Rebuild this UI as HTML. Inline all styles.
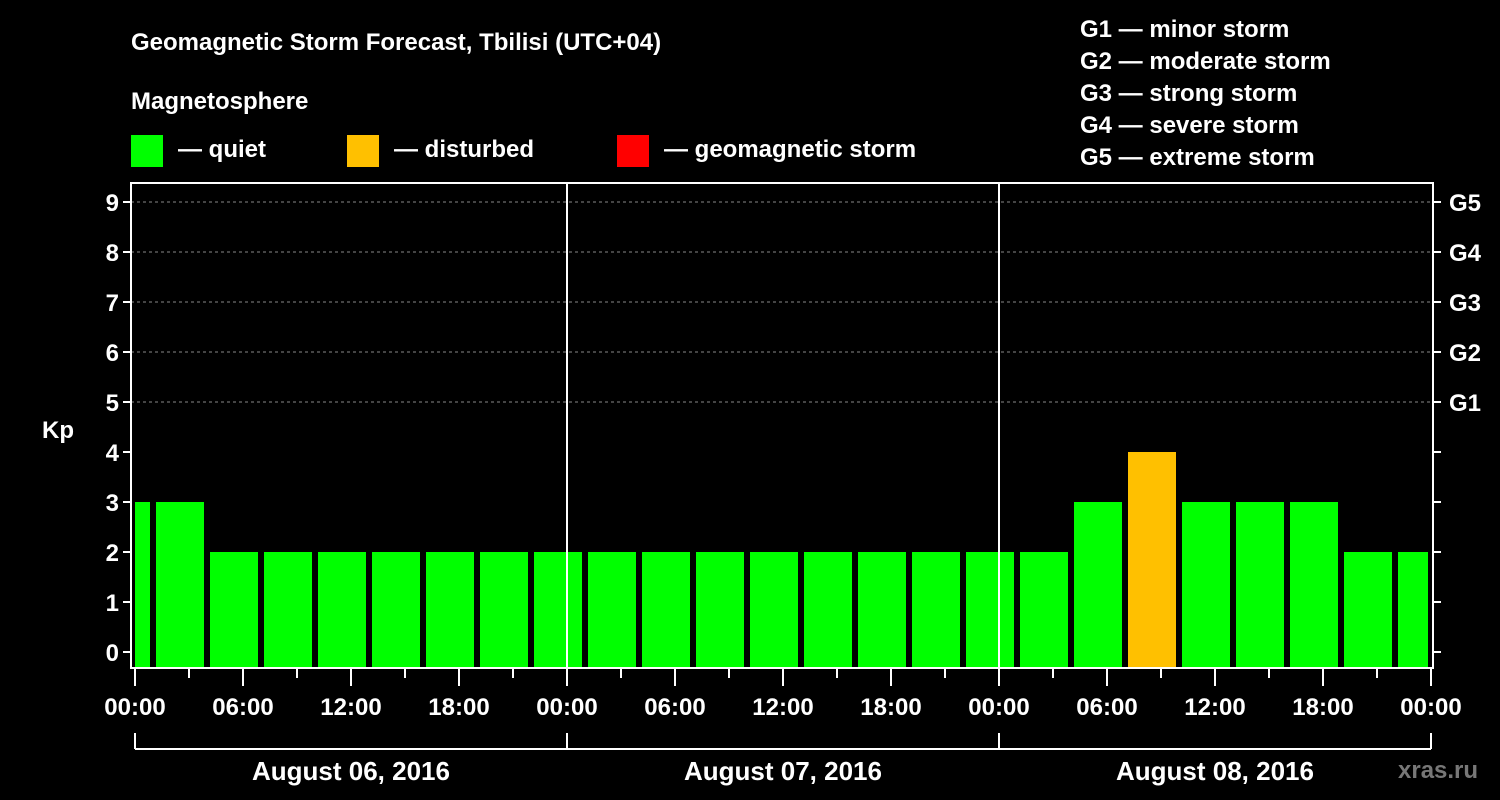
<!DOCTYPE html>
<html><head><meta charset="utf-8"><style>
html,body{margin:0;padding:0;background:#000;width:1500px;height:800px;overflow:hidden}
svg{display:block;font-family:"Liberation Sans",Arial,sans-serif;font-weight:bold;fill:#fff}
</style></head><body>
<svg id="c" width="1500" height="800">
<text x="131" y="50" font-size="24">Geomagnetic Storm Forecast, Tbilisi (UTC+04)</text>
<text x="131" y="109" font-size="24">Magnetosphere</text>
<g><rect x="131" y="135" width="32" height="32" fill="#00ff00"/><text x="178" y="157" font-size="24">— quiet</text></g>
<g><rect x="347" y="135" width="32" height="32" fill="#ffc000"/><text x="394" y="157" font-size="24">— disturbed</text></g>
<g><rect x="617" y="135" width="32" height="32" fill="#ff0000"/><text x="664" y="157" font-size="24">— geomagnetic storm</text></g>
<g font-size="24">
<text x="1080" y="37">G1 — minor storm</text>
<text x="1080" y="69">G2 — moderate storm</text>
<text x="1080" y="101">G3 — strong storm</text>
<text x="1080" y="133">G4 — severe storm</text>
<text x="1080" y="165">G5 — extreme storm</text>
</g>
<text x="42" y="438" font-size="24">Kp</text>
<text x="1398" y="778" font-size="24" fill="#777" style="fill:#777">xras.ru</text>
<g id="g"></g>
</svg>
<script>
const kpValues=[3,3,2,2,2,2,2,2,2,2,2,2,2,2,2,2,2,2,3,4,3,3,3,2,2];
const slotStartHours=[-2,1,4,7,10,13,16,19,22,25,28,31,34,37,40,43,46,49,52,55,58,61,64,67,70];
const timeTickLabels=["00:00","06:00","12:00","18:00","00:00","06:00","12:00","18:00","00:00","06:00","12:00","18:00","00:00"];
const dayLabels=["August 06, 2016","August 07, 2016","August 08, 2016"];
const kpTicks=[0,1,2,3,4,5,6,7,8,9];
const gLabels=["G1","G2","G3","G4","G5"];

const NS="http://www.w3.org/2000/svg";
const g=document.getElementById('g');
const X0=135,PXH=18,TOTAL=72;
const xs=h=>X0+h*PXH;
const ys=k=>652-50*k;
const L=131,R=1433,T=183,B=668;
function mk(t,a,p){const e=document.createElementNS(NS,t);for(const k in a)e.setAttribute(k,a[k]);(p||g).appendChild(e);return e;}

// grid lines
for(const k of kpTicks){
  if(k>=5){const l=mk('line',{x1:L,x2:R,y1:ys(k),y2:ys(k),stroke:'#888','stroke-dasharray':'3,3','stroke-width':1});
  
  }
}
// bars
kpValues.forEach((v,i)=>{
  const s=slotStartHours[i],e=s+3;
  let x1=xs(s)+3,x2=xs(e)-3;
  if(s<0)x1=xs(0);
  if(e>TOTAL)x2=xs(TOTAL)-3;
  const col=v>=5?'#ff0000':(v>=4?'#ffc000':'#00ff00');
  const r=mk('rect',{x:x1,y:ys(v),width:x2-x1,height:B-ys(v),fill:col});
  
  
});
// day separators
for(let d=1;d<3;d++){const l=mk('line',{x1:xs(24*d),x2:xs(24*d),y1:T,y2:B,stroke:'#fff','stroke-width':2});

}
// frame
const f=mk('rect',{x:L,y:T,width:R-L,height:B-T,fill:'none',stroke:'#fff','stroke-width':2});


// y ticks
for(const k of kpTicks){
  mk('line',{x1:L-8,x2:L,y1:ys(k),y2:ys(k),stroke:'#fff','stroke-width':2});
  mk('line',{x1:R,x2:R+8,y1:ys(k),y2:ys(k),stroke:'#fff','stroke-width':2});
  const t=mk('text',{x:L-12,y:ys(k)+9,'font-size':24,'text-anchor':'end'});t.textContent=k;
  
  
}
gLabels.forEach((s,i)=>{const t=mk('text',{x:1449,y:ys(5+i)+9,'font-size':24});t.textContent=s;

});
// x ticks
for(let h=0;h<=TOTAL;h+=3){
  const major=h%6===0;
  mk('line',{x1:xs(h),x2:xs(h),y1:B,y2:B+(major?18:10),stroke:'#fff','stroke-width':2});
}
timeTickLabels.forEach((s,i)=>{const t=mk('text',{x:xs(i*6),y:715,'font-size':24,'text-anchor':'middle'});t.textContent=s;

});
// day bracket
mk('line',{x1:xs(0),x2:xs(TOTAL),y1:749,y2:749,stroke:'#fff','stroke-width':2});
for(let d=0;d<=3;d++)mk('line',{x1:xs(24*d),x2:xs(24*d),y1:733,y2:749,stroke:'#fff','stroke-width':2});
dayLabels.forEach((s,i)=>{const t=mk('text',{x:xs(24*i+12),y:780,'font-size':26,'text-anchor':'middle'});t.textContent=s;

});
</script>
</body></html>
